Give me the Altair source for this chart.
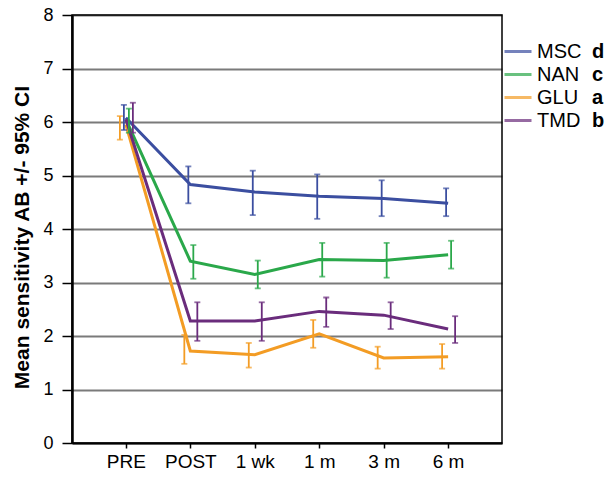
import altair as alt
import pandas as pd

times = ["PRE", "POST", "1 wk", "1 m", "3 m", "6 m"]
series = ["MSC", "NAN", "GLU", "TMD"]
letters = ["d", "c", "a", "b"]
colors = ["#3b4ea0", "#2aa84a", "#f39c24", "#6a2c7c"]
offsets = [-2, 3, -6, 7]

msc_mean = [6.08, 4.83, 4.69, 4.61, 4.57, 4.48]
msc_lo = [5.85, 4.48, 4.26, 4.19, 4.24, 4.24]
msc_hi = [6.32, 5.17, 5.09, 5.02, 4.91, 4.76]

nan_mean = [6.05, 3.40, 3.15, 3.43, 3.41, 3.52]
nan_lo = [5.80, 3.07, 2.89, 3.11, 3.09, 3.26]
nan_hi = [6.25, 3.70, 3.41, 3.74, 3.74, 3.78]

glu_mean = [5.95, 1.72, 1.65, 2.04, 1.59, 1.61]
glu_lo = [5.67, 1.48, 1.41, 1.78, 1.39, 1.39]
glu_hi = [6.11, 2.02, 1.87, 2.30, 1.80, 1.85]

tmd_mean = [6.05, 2.28, 2.28, 2.46, 2.39, 2.13]
tmd_lo = [5.80, 1.91, 1.91, 2.17, 2.13, 1.87]
tmd_hi = [6.36, 2.63, 2.63, 2.72, 2.63, 2.37]

table = {
    "MSC": (msc_mean, msc_lo, msc_hi),
    "NAN": (nan_mean, nan_lo, nan_hi),
    "GLU": (glu_mean, glu_lo, glu_hi),
    "TMD": (tmd_mean, tmd_lo, tmd_hi),
}

rows = []
for s, letter in zip(series, letters):
    m, lo, hi = table[s]
    for t, a, b, c in zip(times, m, lo, hi):
        rows.append({"series": s, "letter": letter, "time": t, "mean": a, "lo": b, "hi": c})
df = pd.DataFrame(rows)

FONT = "Liberation Sans"
W, H = 430, 428

xenc = alt.X(
    "time:N",
    scale=alt.Scale(type="point", domain=times, padding=0.836),
    axis=alt.Axis(
        title=None, labelAngle=0, labelFontSize=19, labelFont=FONT, labelColor="black",
        tickSize=5, tickColor="black", tickWidth=1.5, domainColor="black", domainWidth=2,
        labelPadding=4, grid=False,
    ),
)
yscale = alt.Scale(domain=[0, 8], nice=False)
yaxis = alt.Axis(
    values=list(range(9)), tickSize=10, tickColor="black", tickWidth=1.5,
    labelPadding=9, labelFontSize=18, labelFont=FONT, labelColor="black",
    grid=True, gridColor="#7a7a7a", gridWidth=2,
    domainColor="black", domainWidth=2.5,
    title="Mean sensitivity AB +/- 95% CI", titleFontSize=21, titleFont=FONT,
    titleFontWeight="bold", titleColor="black", titleX=-40, titleY=222,
)
color = alt.Color(
    "series:N",
    scale=alt.Scale(domain=series, range=colors),
    legend=alt.Legend(
        orient="none", legendX=431, legendY=26, title=None,
        symbolType="stroke", symbolSize=729, symbolStrokeWidth=3,
        labelFontSize=20, labelFont=FONT, labelColor="black", labelOffset=4,
        clipHeight=21, rowPadding=2,
    ),
)
shape = alt.Shape(
    "letter:N",
    scale=alt.Scale(domain=letters),
    legend=alt.Legend(
        orient="none", legendX=500, legendY=26, title=None,
        symbolSize=0, symbolStrokeWidth=0, symbolOpacity=0, symbolFillColor="white",
        symbolStrokeColor="white",
        labelFontSize=20, labelFont=FONT, labelFontWeight="bold", labelColor="black",
        labelOffset=0, clipHeight=21, rowPadding=2,
    ),
)

base = alt.Chart(df)
layers = []
for s, off in zip(series, offsets):
    sub = base.transform_filter(alt.datum.series == s)
    layers.append(
        sub.mark_rule(strokeWidth=1.8, xOffset=off).encode(
            x=xenc, y=alt.Y("lo:Q", scale=yscale, axis=yaxis), y2="hi:Q", color=color
        )
    )
    for f in ["lo", "hi"]:
        layers.append(
            sub.mark_tick(orient="horizontal", size=6, thickness=1.8, xOffset=off).encode(
                x=xenc, y=alt.Y(f"{f}:Q", scale=yscale, axis=yaxis), color=color
            )
        )

lines = base.mark_line(strokeWidth=3).encode(
    x=xenc,
    y=alt.Y("mean:Q", scale=yscale, axis=yaxis),
    color=color,
    order=alt.Order("time_idx:Q"),
).transform_calculate(time_idx=f"indexof({times}, datum.time)")

letter_legend = base.mark_point(opacity=0, size=1).encode(
    x=xenc,
    y=alt.Y("mean:Q", scale=yscale, axis=yaxis),
    shape=shape,
)

frame = alt.Chart(pd.DataFrame({"f": [0]})).mark_rect(
    filled=False, stroke="black", strokeWidth=1.5
).encode(x=alt.value(0), x2=alt.value(W), y=alt.value(0), y2=alt.value(H))

chart = alt.layer(frame, lines, *layers, letter_legend).properties(
    width=W, height=H,
    padding={"left": 64, "top": 7, "right": 105, "bottom": 28},
    autosize=alt.AutoSizeParams(type="none"),
).configure_view(stroke=None)

chart.save("out.html", embed_options={"renderer": "svg", "actions": False})
